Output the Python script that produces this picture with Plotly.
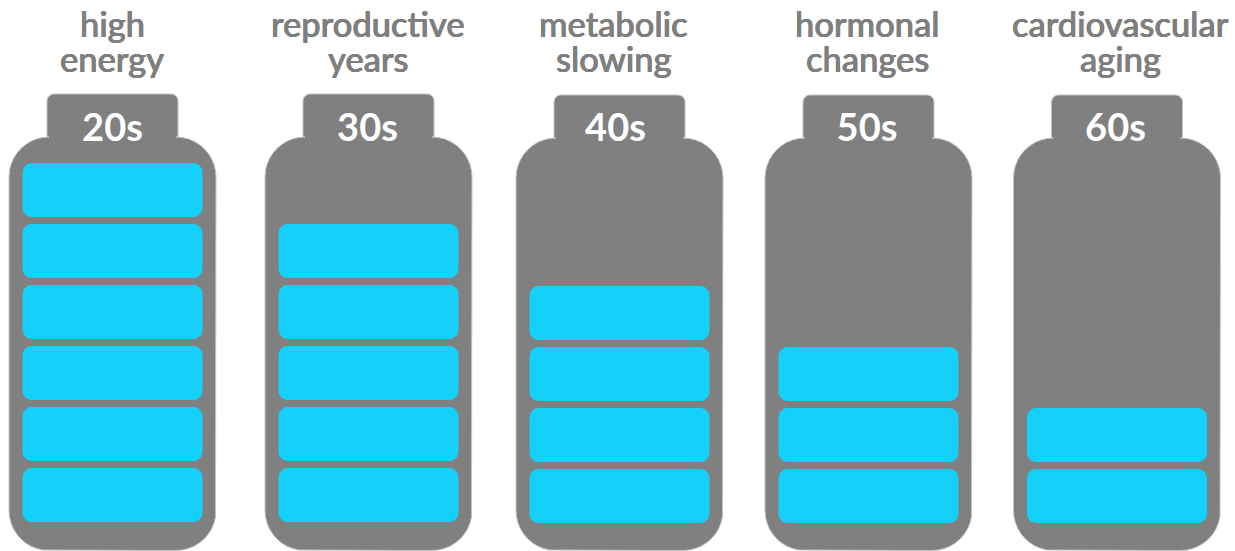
import math
import plotly.graph_objects as go

# Chart content
decades = ["20s", "30s", "40s", "50s", "60s"]
themes = [
    ["high", "energy"],
    ["reproductive", "years"],
    ["metabolic", "slowing"],
    ["hormonal", "changes"],
    ["cardiovascular", "aging"],
]
energy_cells = [6, 5, 4, 3, 2]

# Geometry, in canvas pixels
W, H = 1235, 551
BODY_LEFT = [9, 265, 516, 765, 1013.5]
BODY_TOP = [137, 137, 138, 138, 138]
BODY_W, BODY_R = 207, 40
BODY_BOTTOM = 550.5
NECK_INSET, NECK_TOP_ABOVE, NECK_R = 38, 43, 7
CELL_INSET, CELL_H, CELL_R = 13.5, 54, 9
CELL_PITCH = 61
CELL_BOTTOM = [522, 522, 523, 523, 523]
DECADE_CENTER = [112.5, 367.5, 615.5, 867, 1115.5]
THEME_CENTER = [112, 367.5, 613.5, 867, 1120]

GREY = "#808080"
EDGE = "#C4C4C4"
CYAN = "#15D1FA"
LABEL_GREY = "#7F7F7F"
# A hairline halo gives the regular cut of the caption font a medium weight
CAPTION_SHADOW = "0.35px 0 0 #7F7F7F, -0.35px 0 0 #7F7F7F, 0 0.3px 0 #7F7F7F"


def arc(cx, cy, r, a0, a1, n=10):
    pts = []
    for i in range(n + 1):
        a = math.radians(a0 + (a1 - a0) * i / n)
        pts.append((cx + r * math.cos(a), cy + r * math.sin(a)))
    return pts


def rounded(x0, y0, x1, y1, r):
    """Outline of a rectangle with rounded corners; y grows downward."""
    pts = []
    pts += arc(x0 + r, y0 + r, r, 180, 270)
    pts += arc(x1 - r, y0 + r, r, 270, 360)
    pts += arc(x1 - r, y1 - r, r, 0, 90)
    pts += arc(x0 + r, y1 - r, r, 90, 180)
    pts.append(pts[0])
    return pts


def casing(left, top):
    """Single outline of a battery: shoulders, neck with its cap, then the body."""
    x0, x1 = left, left + BODY_W
    nx0, nx1 = x0 + NECK_INSET, x1 - NECK_INSET
    ny = top - NECK_TOP_ABOVE
    pts = []
    pts += arc(x0 + BODY_R, top + BODY_R, BODY_R, 180, 270)
    pts.append((nx0, top))
    pts += arc(nx0 + NECK_R, ny + NECK_R, NECK_R, 180, 270)
    pts += arc(nx1 - NECK_R, ny + NECK_R, NECK_R, 270, 360)
    pts.append((nx1, top))
    pts += arc(x1 - BODY_R, top + BODY_R, BODY_R, 270, 360)
    pts += arc(x1 - BODY_R, BODY_BOTTOM - BODY_R, BODY_R, 0, 90)
    pts += arc(x0 + BODY_R, BODY_BOTTOM - BODY_R, BODY_R, 90, 180)
    pts.append(pts[0])
    return pts


def add_outlines(fig, outlines, color, name, edge=None):
    xs, ys = [], []
    for outline in outlines:
        xs += [p[0] for p in outline] + [None]
        ys += [p[1] for p in outline] + [None]
    fig.add_trace(go.Scatter(
        x=xs, y=ys, mode="lines", fill="toself", fillcolor=color,
        line=dict(width=1 if edge else 0, color=edge or color),
        hoverinfo="skip", name=name,
    ))


fig = go.Figure()

# Battery casings
add_outlines(fig, [casing(l, t) for l, t in zip(BODY_LEFT, BODY_TOP)],
             GREY, "casing", edge=EDGE)

# Charge cells, stacked from the bottom of each battery
cells = []
for left, bottom, count in zip(BODY_LEFT, CELL_BOTTOM, energy_cells):
    for k in range(count):
        y1 = bottom - k * CELL_PITCH
        cells.append(rounded(left + CELL_INSET, y1 - CELL_H,
                             left + BODY_W - CELL_INSET, y1, CELL_R))
add_outlines(fig, cells, CYAN, "energy")

# Decade labels on the necks
fig.add_trace(go.Scatter(
    x=DECADE_CENTER,
    y=[131] * len(decades),
    mode="text", text=decades, textposition="middle center",
    textfont=dict(family="Lato", size=38, color="white", weight=700),
    hoverinfo="skip", name="decade",
))

# Two-line theme captions above each battery
for center, lines in zip(THEME_CENTER, themes):
    for j, line in enumerate(lines):
        fig.add_annotation(
            x=center, y=23.5 + 35 * j, text=line, showarrow=False,
            xanchor="center", yanchor="middle",
            font=dict(family="Lato", size=34.5, color=LABEL_GREY, weight=500,
                      shadow=CAPTION_SHADOW),
        )

fig.update_layout(
    width=W, height=H, margin=dict(l=0, r=0, t=0, b=0),
    paper_bgcolor="white", plot_bgcolor="white", showlegend=False,
    xaxis=dict(range=[0, W], visible=False, fixedrange=True),
    yaxis=dict(range=[H, 0], visible=False, fixedrange=True),
)

fig.write_html("out.html", config=dict(displayModeBar=False))
